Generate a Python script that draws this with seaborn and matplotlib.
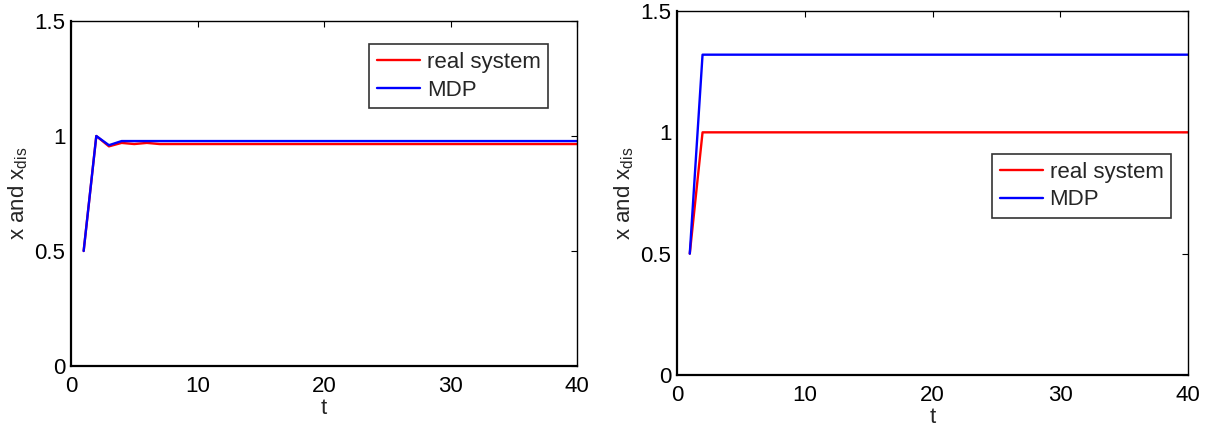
import numpy as np
import pandas as pd
import matplotlib
matplotlib.use("Agg")
import matplotlib.pyplot as plt
import seaborn as sns

t = list(range(1, 41))
left_real = [0.5, 1.0, 0.955, 0.97, 0.965, 0.97] + [0.965] * 34
left_mdp = [0.5, 1.0, 0.96, 0.978] + [0.978] * 36
right_real = [0.5] + [1.0] * 39
right_mdp = [0.5] + [1.32] * 39
series_names = ["real system", "MDP"]
colors = {"real system": "#ff0000", "MDP": "#0000ff"}
xticks = [0, 10, 20, 30, 40]
yticks = [0, 0.5, 1, 1.5]
ytick_labels = ["0", "0.5", "1", "1.5"]

sns.set_theme(style="white")
plt.rcParams['font.family'] = ['Liberation Sans', 'DejaVu Sans']
plt.rcParams['mathtext.fontset'] = 'custom'
plt.rcParams['mathtext.rm'] = 'Liberation Sans'
plt.rcParams['mathtext.it'] = 'Liberation Sans'

FS = 16
fig = plt.figure(figsize=(12.06, 4.32), dpi=100)
ax1 = fig.add_axes([71/1206, 1-366/432, (577-71)/1206, (366-21)/432])
ax2 = fig.add_axes([677/1206, 1-375/432, (1188-677)/1206, (375-11)/432])

def make_df(real, mdp):
    return pd.DataFrame({
        "t": t + t,
        "val": real + mdp,
        "series": ["real system"] * len(t) + ["MDP"] * len(t),
    })

for ax, real, mdp, loc in [(ax1, left_real, left_mdp, (0.589, 0.933)),
                           (ax2, right_real, right_mdp, (0.616, 0.607))]:
    df = make_df(real, mdp)
    sns.lineplot(data=df, x="t", y="val", hue="series", hue_order=series_names,
                 palette=colors, ax=ax, linewidth=1.7, estimator=None)
    ax.set_xlim(0, 40)
    ax.set_ylim(0, 1.5)
    ax.set_xticks(xticks)
    ax.set_yticks(yticks)
    ax.set_yticklabels(ytick_labels)
    ax.tick_params(direction="in", top=True, right=True, length=4, width=0.8,
                   labelsize=FS, colors="black")
    ax.tick_params(axis="x", pad=7)
    ax.tick_params(axis="y", pad=4)
    for name, s in ax.spines.items():
        s.set_color("black")
        s.set_linewidth(1.6 if name in ("left", "bottom") else 1.0)
    ax.set_xlabel("t", fontsize=FS, labelpad=1)
    ax.set_ylabel(r"x and x$_{\mathrm{dis}}$", fontsize=FS, labelpad=3)
    leg = ax.legend(loc="upper left", bbox_to_anchor=loc, fontsize=FS, frameon=True,
                    fancybox=False, edgecolor="black", handlelength=1.95,
                    borderpad=0.35, labelspacing=0.3, handletextpad=0.3,
                    borderaxespad=0)
    leg.get_frame().set_linewidth(1.2)

fig.savefig("out.png", dpi=100, facecolor="white")
